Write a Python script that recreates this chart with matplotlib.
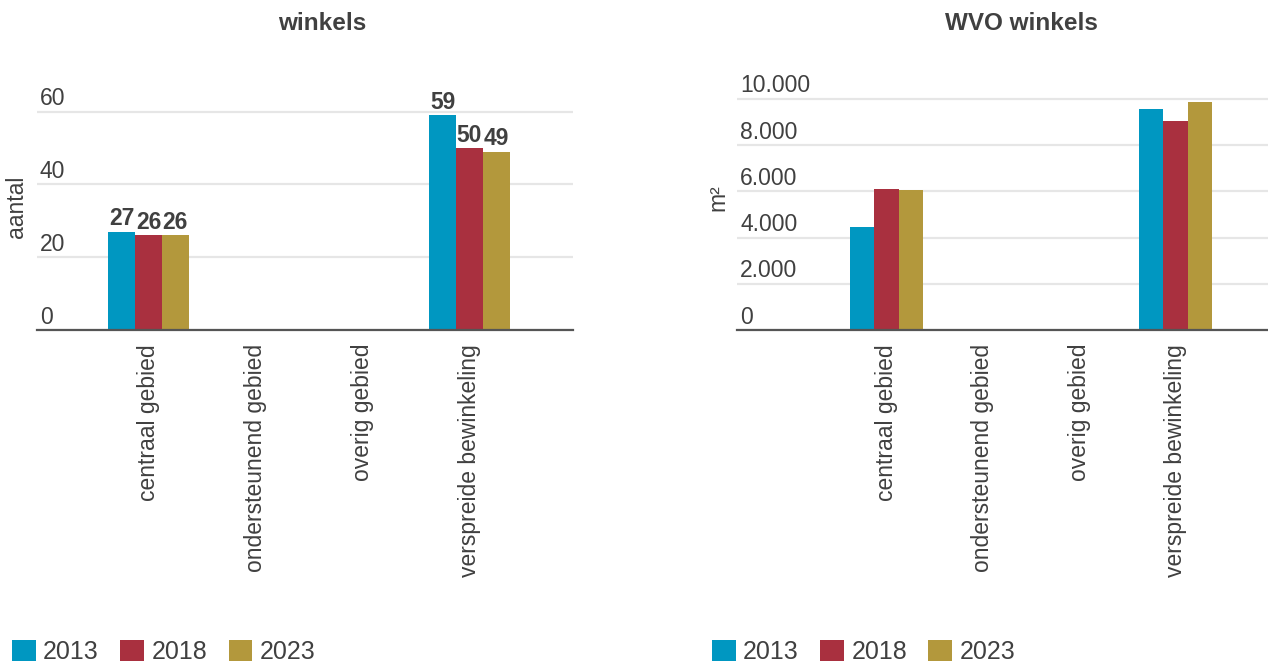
import numpy as np
import matplotlib
matplotlib.use("Agg")
import matplotlib.pyplot as plt
from matplotlib.patches import Patch
import matplotlib.transforms as mtransforms

plt.rcParams['font.family'] = ['Liberation Sans', 'DejaVu Sans']

categories = ["centraal gebied", "ondersteunend gebied", "overig gebied", "verspreide bewinkeling"]
years = ["2013", "2018", "2023"]
colors = ["#0097c1", "#a9303f", "#b3983c"]

winkels_2013 = [27, None, None, 59]
winkels_2018 = [26, None, None, 50]
winkels_2023 = [26, None, None, 49]

wvo_2013 = [4450, None, None, 9550]
wvo_2018 = [6090, None, None, 9030]
wvo_2023 = [6050, None, None, 9860]

left_ticks = [0, 20, 40, 60]
right_ticks = [0, 2000, 4000, 6000, 8000, 10000]

TXT = "#404040"
FS = 16.5
W, H = 1268, 664

fig = plt.figure(figsize=(W / 100, H / 100), dpi=100)


def px_axes(x0, x1, ytop, ybot):
    return fig.add_axes([x0 / W, 1 - ybot / H, (x1 - x0) / W, (ybot - ytop) / H])


def fmt_nl(v):
    return f"{int(v):,}".replace(",", ".")


def draw(ax, series, ticks, xlim, ylim, labels, fmt):
    x = np.arange(len(categories))
    bw = 0.25
    for i, (vals, c) in enumerate(zip(series, colors)):
        v = np.array([np.nan if a is None else a for a in vals], dtype=float)
        bars = ax.bar(x + (i - 1) * bw, v, width=bw, color=c, linewidth=0, zorder=3)
        if labels:
            lab = ["" if np.isnan(a) else f"{int(a)}" for a in v]
            ax.bar_label(bars, labels=lab, padding=1, fontsize=FS, fontweight="bold",
                         color=TXT, zorder=4)
    ax.set_xlim(*xlim)
    ax.set_ylim(*ylim)
    ax.set_yticks(ticks)
    ax.yaxis.grid(True, color="#e6e6e6", linewidth=1.6, zorder=0)
    ax.tick_params(axis="y", left=False, labelleft=False)
    off = mtransforms.ScaledTranslation(3 / 100, 1.5 / 100, fig.dpi_scale_trans)
    tr = mtransforms.blended_transform_factory(ax.transAxes, ax.transData) + off
    for t in ticks:
        ax.text(0, t, fmt(t), transform=tr, ha="left", va="bottom", fontsize=FS, color=TXT)
    ax.set_xticks(x)
    ax.set_xticklabels(categories, rotation=90, fontsize=FS, color=TXT, va="top", ha="center")
    ax.tick_params(axis="x", length=0, pad=10)
    for s in ["top", "right", "left"]:
        ax.spines[s].set_visible(False)
    ax.spines["bottom"].set_color("#555555")
    ax.spines["bottom"].set_linewidth(1.6)
    ax.spines["bottom"].set_zorder(5)
    ax.set_facecolor("none")


ax1 = px_axes(37, 573, 80, 330)
draw(ax1, [winkels_2013, winkels_2018, winkels_2023], left_ticks,
     (-1.042, 3.967), (0, 250 / 3.638), True, lambda v: f"{int(v)}")

ax2 = px_axes(737, 1268, 80, 330)
draw(ax2, [wvo_2013, wvo_2018, wvo_2023], right_ticks,
     (-1.552, 3.96), (0, 250 / 0.0231), False, fmt_nl)

fig.text(322 / W, 1 - 23 / H, "winkels", ha="center", va="center", fontsize=17.5,
         fontweight="bold", color=TXT)
fig.text(1021 / W, 1 - 23 / H, "WVO winkels", ha="center", va="center", fontsize=17.5,
         fontweight="bold", color=TXT)
fig.text(17 / W, 1 - 207 / H, "aantal", rotation=90, ha="center", va="center",
         fontsize=FS, color=TXT)
fig.text(718 / W, 1 - 198 / H, "m²", rotation=90, ha="center", va="center",
         fontsize=FS, color=TXT)

handles = [Patch(facecolor=c, edgecolor="none") for c in colors]
for x0 in (12, 712):
    fig.legend(handles, years, loc="lower left", bbox_to_anchor=(x0 / W, 0.0),
               ncol=3, frameon=False, fontsize=18, handlelength=0.95, handleheight=0.95,
               handletextpad=0.3, columnspacing=0.85, borderpad=0.0, borderaxespad=0.0,
               labelcolor=TXT)

fig.savefig("out.png", dpi=100, facecolor="white")
